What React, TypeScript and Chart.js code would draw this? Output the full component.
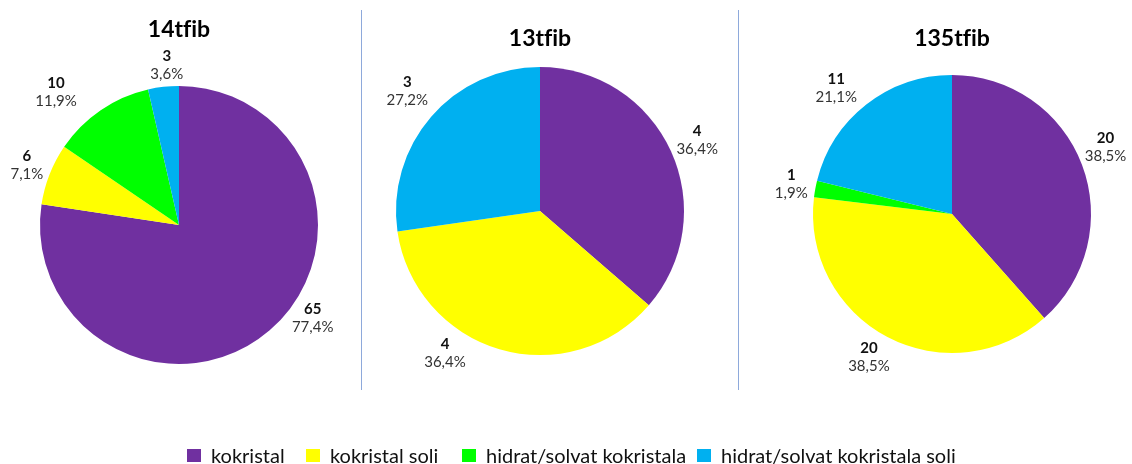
import React, { useEffect, useRef } from "react";
import { Chart, registerables } from "chart.js";

Chart.register(...registerables);

const seriesNames = ["kokristal", "kokristal soli", "hidrat/solvat kokristala", "hidrat/solvat kokristala soli"];
const colors = ["#7030A0", "#FFFF00", "#00FF00", "#00B0F0"];

const titles = ["14tfib", "13tfib", "135tfib"];
const counts14 = [65, 6, 10, 3];
const pct14 = [77.4, 7.1, 11.9, 3.6];
const counts13 = [4, 4, 0, 3];
const pct13 = [36.4, 36.4, 0, 27.2];
const counts135 = [20, 20, 1, 11];
const pct135 = [38.5, 38.5, 1.9, 21.1];

const allCounts = [counts14, counts13, counts135];
const allPcts = [pct14, pct13, pct135];

// layout (pixels / degrees), kept apart from the data
const layout = [
  { cx: 179, cy: 225, r: 139, titleY: 28, nudge: [[-14, -4], [0, 0], [-8, 15], [2, -5]] },
  { cx: 540, cy: 211, r: 144, titleY: 37, nudge: [[0, 0], [17, 0], [0, 0], [1.5, 7]] },
  { cx: 952, cy: 214, r: 139, titleY: 37, nudge: [[-3, 0], [2, 0], [0, 0], [-4, 5]] },
];
const legendX = [187, 306, 462, 697];

const FONT = 'Lato, "Liberation Sans", "DejaVu Sans", sans-serif';
const W = 1132;
const H = 464;
const CW = 420;

const labelPlugin = {
  id: "pieLabels",
  afterDraw(chart: any) {
    const ctx = chart.ctx;
    const opts = chart.options.plugins.pieLabels;
    const meta = chart.getDatasetMeta(0);
    const data = chart.data.datasets[0].data as number[];
    ctx.save();
    meta.data.forEach((arc: any, i: number) => {
      if (!data[i]) return;
      const { x, y, startAngle, endAngle, outerRadius } = arc.getProps(
        ["x", "y", "startAngle", "endAngle", "outerRadius"],
        true
      );
      const [da, dd] = opts.nudge[i];
      const mid = (startAngle + endAngle) / 2 + (da * Math.PI) / 180;
      const ux = Math.cos(mid);
      const uy = Math.sin(mid);
      const numTxt = String(data[i]);
      const pctTxt = opts.pcts[i].toFixed(1).replace(".", ",") + "%";
      ctx.font = `15px ${FONT}`;
      const w = Math.max(ctx.measureText(pctTxt).width, 12);
      const h = 36;
      const gap = 8 + dd;
      const lx = x + ux * (outerRadius + gap) + (ux * w) / 2;
      const ly = y + uy * (outerRadius + gap) + (uy * h) / 2;
      ctx.textAlign = "center";
      ctx.textBaseline = "middle";
      ctx.fillStyle = "#111";
      ctx.font = `bold 15px ${FONT}`;
      ctx.fillText(numTxt, lx, ly - 9);
      ctx.fillStyle = "#333";
      ctx.font = `15px ${FONT}`;
      ctx.fillText(pctTxt, lx, ly + 9);
    });
    ctx.restore();
  },
};

function PieCanvas({ idx }: { idx: number }) {
  const ref = useRef<HTMLCanvasElement | null>(null);
  const L = layout[idx];
  useEffect(() => {
    if (!ref.current) return;
    const chart = new Chart(ref.current, {
      type: "pie",
      data: {
        labels: seriesNames,
        datasets: [
          {
            data: allCounts[idx],
            backgroundColor: colors,
            borderWidth: 0,
            hoverOffset: 0,
          },
        ],
      },
      options: {
        responsive: false,
        maintainAspectRatio: false,
        animation: false,
        events: [],
        layout: {
          padding: {
            left: CW / 2 - L.r,
            right: CW / 2 - L.r,
            top: L.cy - L.r,
            bottom: H - L.cy - L.r,
          },
        },
        plugins: {
          legend: { display: false },
          tooltip: { enabled: false },
          title: { display: false },
          pieLabels: { pcts: allPcts[idx], nudge: L.nudge },
        } as any,
      },
      plugins: [labelPlugin],
    });
    return () => chart.destroy();
  }, [idx]);
  return (
    <>
      <canvas
        ref={ref}
        width={CW}
        height={H}
        style={{ position: "absolute", left: L.cx - CW / 2, top: 0, width: CW, height: H }}
      />
      <div
        style={{
          position: "absolute",
          left: L.cx - 100,
          width: 200,
          top: L.titleY - 15,
          height: 30,
          lineHeight: "30px",
          textAlign: "center",
          fontWeight: "bold",
          fontSize: 23,
          color: "#000",
          fontVariantLigatures: "none",
        }}
      >
        {titles[idx]}
      </div>
    </>
  );
}

export default function App() {
  useEffect(() => {
    document.body.style.margin = "0";
  }, []);
  return (
    <div style={{ position: "relative", width: W, height: H, background: "#fff", overflow: "hidden", fontFamily: FONT }}>
      <div style={{ position: "absolute", left: 361, top: 10, width: 1, height: 380, background: "#8EA9DB" }} />
      <div style={{ position: "absolute", left: 738, top: 10, width: 1, height: 380, background: "#8EA9DB" }} />
      {[0, 1, 2].map((i) => (
        <PieCanvas key={i} idx={i} />
      ))}
      {seriesNames.map((n, i) => (
        <div
          key={n}
          style={{
            position: "absolute",
            left: legendX[i],
            top: 443,
            height: 24,
            display: "flex",
            alignItems: "center",
            fontSize: 20,
            color: "#111",
            whiteSpace: "nowrap",
          }}
        >
          <span style={{ display: "inline-block", width: 14, height: 13, background: colors[i], marginRight: 10 }} />
          <span>{n}</span>
        </div>
      ))}
    </div>
  );
}
